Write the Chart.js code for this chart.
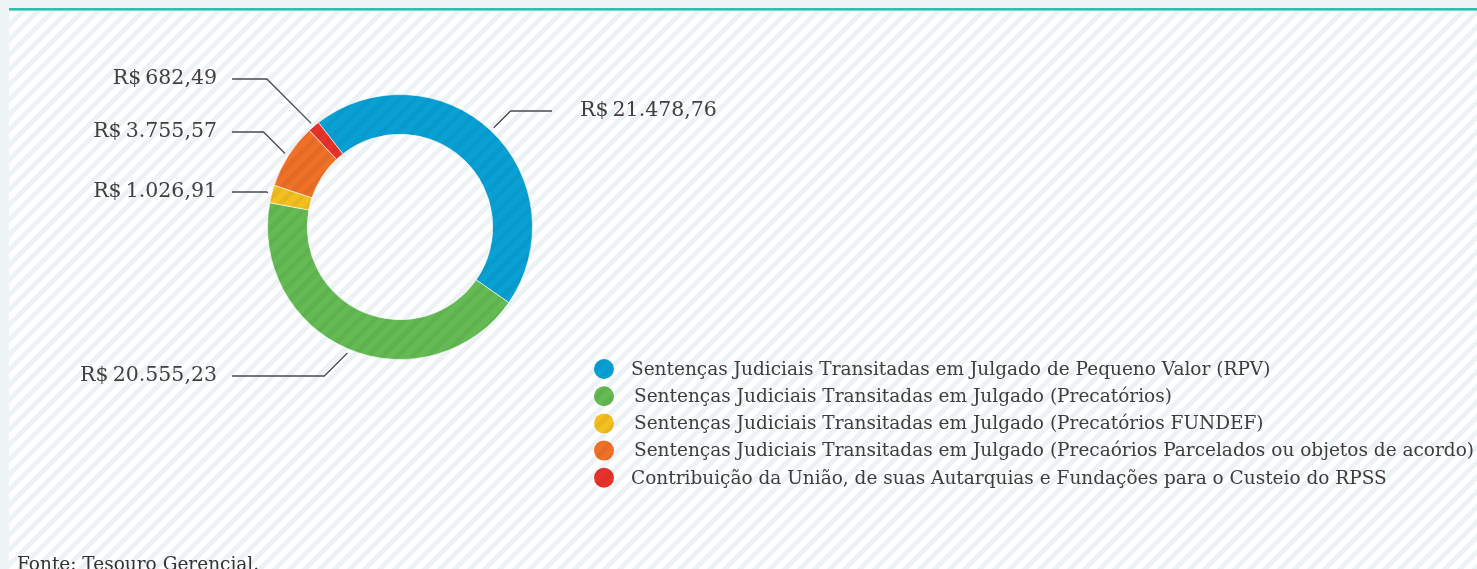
<html>
<head>
    <title>Sentenças Judiciais - Despesas</title>
    <script src="https://cdn.jsdelivr.net/npm/chart.js"></script>
    <style>
        body {
            margin: 0;
            background: #eef3f6;
        }
        .wrap {
            position: relative;
            width: 1477px;
            height: 569px;
        }
    </style>
</head>
<body>
    <div class="wrap">
        <canvas id="despesasChart"></canvas>
    </div>
    <script>
        // dados
        const categorias = [
            'Sentenças Judiciais Transitadas em Julgado de Pequeno Valor (RPV)',
            'Sentenças Judiciais Transitadas em Julgado (Precatórios)',
            'Sentenças Judiciais Transitadas em Julgado (Precatórios FUNDEF)',
            'Sentenças Judiciais Transitadas em Julgado (Precaórios Parcelados ou objetos de acordo)',
            'Contribuição da União, de suas Autarquias e Fundações para o Custeio do RPSS'
        ];
        const valores = [21478.76, 20555.23, 1026.91, 3755.57, 682.49];
        const cores = ['#09a1d5', '#64bb53', '#f3c020', '#ef7027', '#e6332a'];

        // onde fica cada rótulo de valor (altura da linha)
        const rotuloY = [111, 376, 192, 132, 79];
        const legendaX = [631, 634, 634, 634, 631];

        const fonte = '"DejaVu Serif", serif';

        function formatarBRL(v) {
            const partes = v.toFixed(2).split('.');
            const inteiro = partes[0].replace(/\B(?=(\d{3})+(?!\d))/g, '.');
            return 'R$\u2009' + inteiro + ',' + partes[1];
        }

        // listras diagonais por cima de cada cor
        function padrao(cor, listra) {
            const c = document.createElement('canvas');
            c.width = 15; c.height = 15;
            const g = c.getContext('2d');
            g.fillStyle = cor;
            g.fillRect(0, 0, 15, 15);
            g.fillStyle = listra;
            for (let x = 0; x < 15; x++) {
                for (let y = 0; y < 15; y++) {
                    if ((x + y) % 15 < 7) g.fillRect(x, y, 1, 1);
                }
            }
            return g.createPattern(c, 'repeat');
        }
        const padroes = cores.map(c => padrao(c, 'rgba(0,0,0,0.045)'));
        const fundo = padrao('#ffffff', '#edf2f5');

        const fundoPlugin = {
            id: 'fundo',
            beforeDraw(chart) {
                const ctx = chart.ctx;
                const w = chart.width, h = chart.height;
                ctx.save();
                ctx.fillStyle = '#eef3f6';
                ctx.fillRect(0, 0, w, h);
                ctx.fillStyle = fundo;
                ctx.fillRect(9, 11, w - 9, h - 11);
                ctx.fillStyle = '#2dbfae';
                ctx.fillRect(9, 8, w - 9, 2);
                ctx.fillStyle = '#7fd6cc';
                ctx.fillRect(9, 10, w - 9, 1);
                ctx.restore();
            }
        };

        const rotulosPlugin = {
            id: 'rotulos',
            afterDraw(chart) {
                const ctx = chart.ctx;
                const arcos = chart.getDatasetMeta(0).data;
                ctx.save();
                ctx.strokeStyle = '#4b4b4b';
                ctx.lineWidth = 1.3;
                ctx.fillStyle = '#404040';
                ctx.font = '20.5px ' + fonte;
                ctx.textBaseline = 'middle';
                arcos.forEach((arco, i) => {
                    const p = arco.getProps(['x', 'y', 'startAngle', 'endAngle', 'outerRadius'], true);
                    const meio = (p.startAngle + p.endAngle) / 2;
                    const lado = Math.cos(meio) < 0 ? -1 : 1;
                    const r = p.outerRadius + 4;
                    const sx = p.x + r * Math.cos(meio);
                    const sy = p.y + r * Math.sin(meio);
                    const ly = rotuloY[i];
                    const ex = sx + lado * Math.abs(ly - sy);
                    const fimX = lado < 0 ? p.x - 168 : p.x + 152;
                    ctx.beginPath();
                    ctx.moveTo(sx, sy);
                    ctx.lineTo(ex, ly);
                    ctx.lineTo(fimX, ly);
                    ctx.stroke();
                    ctx.textAlign = lado < 0 ? 'right' : 'left';
                    ctx.fillText(formatarBRL(valores[i]), lado < 0 ? fimX - 15 : fimX + 28, ly);
                });

                // legenda
                ctx.font = '18.5px ' + fonte;
                ctx.textAlign = 'left';
                categorias.forEach((nome, i) => {
                    const y = 369 + i * 27.2;
                    ctx.beginPath();
                    ctx.arc(604, y, 10, 0, Math.PI * 2);
                    ctx.fillStyle = padroes[i];
                    ctx.fill();
                    ctx.fillStyle = '#3d3d3d';
                    ctx.fillText(nome, legendaX[i], y + 1);
                });

                // fonte
                ctx.textBaseline = 'alphabetic';
                ctx.fillStyle = '#333333';
                ctx.fillText('Fonte: Tesouro Gerencial.', 17, 570);
                ctx.restore();
            }
        };

        new Chart(document.getElementById('despesasChart'), {
            type: 'doughnut',
            data: {
                labels: categorias,
                datasets: [{
                    data: valores,
                    backgroundColor: padroes,
                    borderColor: 'rgba(255,255,255,0.6)',
                    borderWidth: 1
                }]
            },
            options: {
                responsive: true,
                maintainAspectRatio: false,
                animation: false,
                rotation: -38,
                cutout: '70%',
                layout: {
                    padding: { left: 267, right: 944, top: 94, bottom: 209 }
                },
                plugins: {
                    legend: { display: false },
                    tooltip: { enabled: false }
                }
            },
            plugins: [fundoPlugin, rotulosPlugin]
        });
    </script>
</body>
</html>
